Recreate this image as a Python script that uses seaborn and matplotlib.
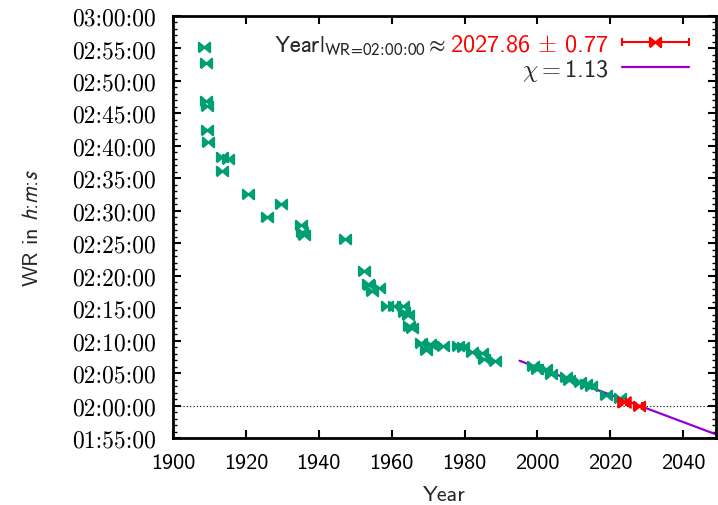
import numpy as np
import pandas as pd
import seaborn as sns
import matplotlib.pyplot as plt
from matplotlib.ticker import MultipleLocator, FuncFormatter, NullLocator
from matplotlib.container import ErrorbarContainer
from matplotlib.legend_handler import HandlerErrorbar

# Marathon world record progression
wr_years = [1908.56, 1909.00, 1909.12, 1909.35, 1909.40, 1909.66, 1913.36, 1913.41,
            1915.0, 1920.64, 1925.78, 1929.51, 1935.25, 1935.40, 1935.84, 1947.30,
            1952.45, 1953.45, 1953.76, 1954.48, 1956.61, 1958.65, 1960.69, 1963.13,
            1963.45, 1964.45, 1964.81, 1965.45, 1967.92, 1969.41, 1970.56, 1974.08,
            1978.10, 1979.6, 1981.93, 1984.80, 1985.30, 1988.29, 1998.72, 1999.81,
            2002.29, 2003.74, 2007.75, 2008.74, 2011.73, 2013.40, 2014.74, 2018.71,
            2022.73]
wr_times = ['2:55:18', '2:52:45', '2:46:53', '2:46:05', '2:42:31', '2:40:34', '2:38:16', '2:36:07',
            '2:38:00', '2:32:36', '2:29:02', '2:30:58', '2:27:49', '2:26:44', '2:26:20', '2:25:39',
            '2:20:42', '2:18:40', '2:18:35', '2:17:39', '2:18:05', '2:15:17', '2:15:16', '2:15:16',
            '2:14:28', '2:13:55', '2:12:11', '2:12:00', '2:09:36', '2:08:34', '2:09:28', '2:09:12',
            '2:09:06', '2:09:01', '2:08:18', '2:08:05', '2:07:12', '2:06:50', '2:06:05', '2:05:42',
            '2:05:38', '2:04:55', '2:04:26', '2:03:59', '2:03:38', '2:03:23', '2:02:57', '2:01:39',
            '2:01:09']
# latest record and the extrapolated 2h crossing (red)
recent_years = [2023.77]
recent_times = ['2:00:35']
pred_year = [2027.86]
pred_err = [0.77]
pred_time = ['2:00:00']
# straight fit line (purple)
fit_years = [1995.1, 2050.0]
fit_times = ['2:06:54', '1:55:21']
target_time = '2:00:00'


def to_sec(s):
    h, m, sec = s.split(':')
    return int(h) * 3600 + int(m) * 60 + int(sec)


def hms(v, pos):
    v = int(round(v))
    return '%02d:%02d:%02d' % (v // 3600, (v % 3600) // 60, v % 60)


df = pd.DataFrame({'year': wr_years, 'sec': [to_sec(t) for t in wr_times]})
fit = pd.DataFrame({'year': fit_years, 'sec': [to_sec(t) for t in fit_times]})

sns.set_style('ticks')
plt.rcParams['mathtext.fontset'] = 'cm'
plt.rcParams['axes.unicode_minus'] = False

green = '#009e73'
purple = '#9400d3'
fs = 16
lfs = 17.5
bowtie = [(-1, -0.85), (-1, 0.85), (1, -0.85), (1, 0.85), (-1, -0.85)]

fig = plt.figure(figsize=(7.18, 5.06), dpi=100)
ax = fig.add_axes([173 / 718, 1 - 439 / 506, (716 - 173) / 718, (439 - 17) / 506])

ax.axhline(to_sec(target_time), color='black', lw=0.8, ls=(0, (1, 2)), zorder=1)
sns.scatterplot(data=df, x='year', y='sec', marker=bowtie, s=65, color=green,
                edgecolor=green, linewidth=1.5, ax=ax, zorder=3)
sns.lineplot(data=fit, x='year', y='sec', color=purple, lw=1.6, ax=ax, zorder=2,
             label=r'$\chi = $1.13')
ax.errorbar(recent_years, [to_sec(t) for t in recent_times], xerr=0.5, ls='none',
            marker=bowtie, ms=9, mew=1.5, color='red', elinewidth=1.5, capsize=3, zorder=4)
eb = ax.errorbar(pred_year, [to_sec(t) for t in pred_time], xerr=pred_err, ls='none',
                 marker=bowtie, ms=8, mew=1.5, color='red', elinewidth=1.5, capsize=3, zorder=4)

ax.set_xlim(1900, 2049)
ax.set_ylim(to_sec('1:55:00'), to_sec('3:00:00'))
ax.xaxis.set_major_locator(MultipleLocator(20))
ax.xaxis.set_minor_locator(NullLocator())
ax.yaxis.set_major_locator(MultipleLocator(300))
ax.yaxis.set_minor_locator(MultipleLocator(60))
ax.yaxis.set_major_formatter(FuncFormatter(hms))
ax.tick_params(which='both', direction='in', top=True, right=True, colors='black')
ax.tick_params(which='major', length=6, width=1.5)
ax.tick_params(which='minor', length=3, width=1)
ax.tick_params(axis='y', pad=12)
ax.tick_params(axis='x', pad=11)
for lab in ax.get_yticklabels():
    lab.set_fontfamily('cmr10')
    lab.set_fontsize(17)
for lab in ax.get_xticklabels():
    lab.set_fontfamily('cmss10')
    lab.set_fontsize(fs)
for sp in ax.spines.values():
    sp.set_linewidth(2)
    sp.set_color('black')

ax.set_xlabel('Year', fontfamily='cmss10', fontsize=fs, labelpad=9)
ax.set_ylabel('WR in $h$:$m$:$s$', fontfamily='cmss10', fontsize=fs,
              math_fontfamily='stixsans', labelpad=22)

line = ax.get_lines()[-1]
for l in ax.get_lines():
    if l.get_color() == purple:
        line = l
leg = ax.legend(handles=[eb, line],
                labels=['2027.86$\\,\\pm\\,$0.77', '$\\chi = $1.13'],
                loc='upper right', bbox_to_anchor=(0.99, 1.01), frameon=False,
                markerfirst=False, handlelength=2.75, handletextpad=0.55, labelspacing=0.05,
                prop={'family': 'cmss10', 'size': lfs},
                handler_map={ErrorbarContainer: HandlerErrorbar(xerr_size=1.37)})
leg.get_texts()[0].set_color('red')
ax.annotate(r'$\left.\mathrm{Year}\right|_{\mathrm{WR\!=\!02\!:\!00\!:\!00}}\approx$',
            xy=(0, 0.5), xycoords=leg.get_texts()[0], xytext=(-3, 0),
            textcoords='offset points', ha='right', va='center', fontsize=lfs,
            math_fontfamily='stixsans', zorder=10)

fig.savefig('out.png', dpi=100)
